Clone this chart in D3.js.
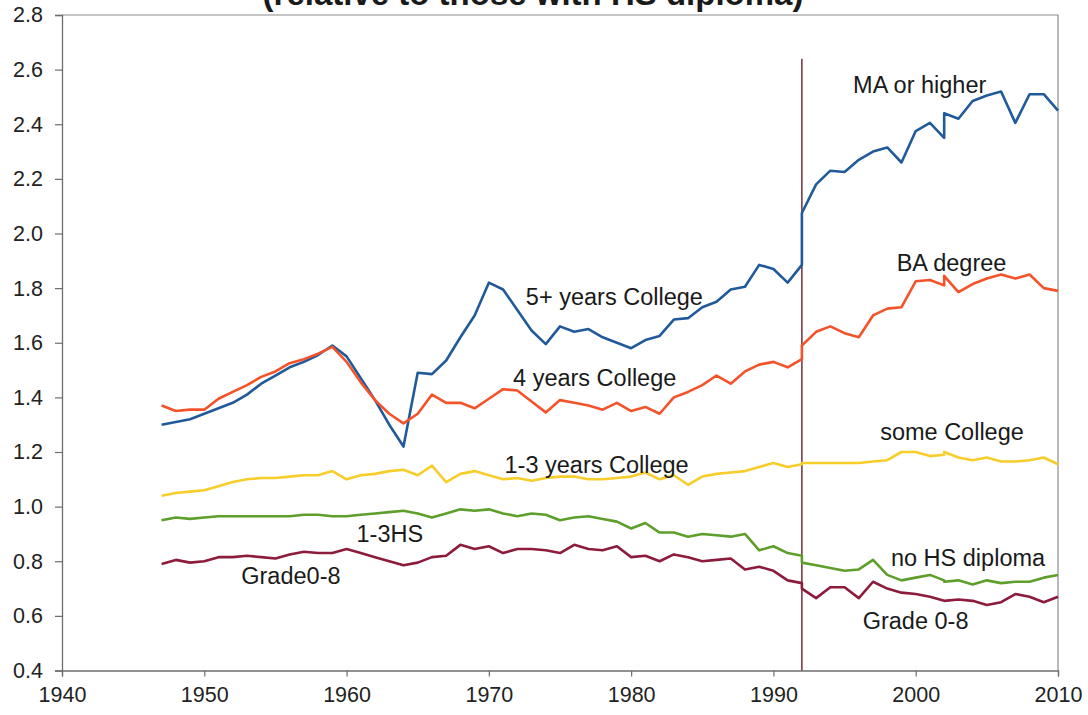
<!DOCTYPE html>
<html>
<head>
<meta charset="utf-8">
<script src="https://cdn.jsdelivr.net/npm/d3@7"></script>
<style>
  body { margin: 0; background: #fff; }
  svg { display: block; font-family: "Liberation Sans", Arial, sans-serif; }
  .tick text { fill: #222; }
</style>
</head>
<body>
<div id="chart"></div>
<script>
// canvas size
var svgWidth = 1088;
var svgHeight = 715;

// plot area edges
var margin = { top: 15, right: 30, bottom: 44.5, left: 62 };
var width = svgWidth - margin.left - margin.right;
var height = svgHeight - margin.top - margin.bottom;

// years before and after the 1992 break (2002 appears twice, as in the source)
var yearsEarly = [1947, 1948, 1949, 1950, 1951, 1952, 1953, 1954, 1955, 1956,
  1957, 1958, 1959, 1960, 1961, 1962, 1963, 1964, 1965, 1966, 1967, 1968, 1969,
  1970, 1971, 1972, 1973, 1974, 1975, 1976, 1977, 1978, 1979, 1980, 1981, 1982,
  1983, 1984, 1985, 1986, 1987, 1988, 1989, 1990, 1991, 1992];
var yearsLate = [1992, 1993, 1994, 1995, 1996, 1997, 1998, 1999, 2000, 2001,
  2002, 2002, 2003, 2004, 2005, 2006, 2007, 2008, 2009, 2010];

// 5+ years College -> MA or higher
var collegeFivePlus = [1.30, 1.31, 1.32, 1.34, 1.36, 1.38, 1.41, 1.45, 1.48, 1.51,
  1.53, 1.555, 1.59, 1.55, 1.47, 1.39, 1.30, 1.22, 1.49, 1.485, 1.535, 1.62, 1.70,
  1.82, 1.795, 1.72, 1.645, 1.595, 1.66, 1.64, 1.65, 1.62, 1.60, 1.58, 1.61, 1.625,
  1.685, 1.69, 1.73, 1.75, 1.795, 1.805, 1.885, 1.87, 1.82, 1.885];
var maOrHigher = [2.075, 2.18, 2.23, 2.225, 2.27, 2.30, 2.315, 2.26, 2.375, 2.405,
  2.35, 2.44, 2.42, 2.485, 2.505, 2.52, 2.405, 2.51, 2.51, 2.45];

// 4 years College -> BA degree
var collegeFour = [1.37, 1.35, 1.355, 1.355, 1.395, 1.42, 1.445, 1.475, 1.495, 1.525,
  1.54, 1.56, 1.585, 1.53, 1.455, 1.39, 1.34, 1.305, 1.34, 1.41, 1.38, 1.38, 1.36,
  1.395, 1.43, 1.425, 1.385, 1.345, 1.39, 1.38, 1.37, 1.355, 1.38, 1.35, 1.365, 1.34,
  1.40, 1.42, 1.445, 1.48, 1.45, 1.495, 1.52, 1.53, 1.51, 1.54];
var baDegree = [1.59, 1.64, 1.66, 1.635, 1.62, 1.70, 1.725, 1.73, 1.825, 1.83,
  1.81, 1.845, 1.785, 1.815, 1.835, 1.85, 1.835, 1.85, 1.80, 1.79];

// 1-3 years College -> some College
var collegeOneThree = [1.04, 1.05, 1.055, 1.06, 1.075, 1.09, 1.10, 1.105, 1.105, 1.11,
  1.115, 1.115, 1.13, 1.10, 1.115, 1.12, 1.13, 1.135, 1.115, 1.15, 1.09, 1.12, 1.13,
  1.115, 1.10, 1.105, 1.095, 1.105, 1.11, 1.11, 1.10, 1.10, 1.105, 1.11, 1.125, 1.10,
  1.115, 1.08, 1.11, 1.12, 1.125, 1.13, 1.145, 1.16, 1.145, 1.155];
var someCollege = [1.16, 1.16, 1.16, 1.16, 1.16, 1.165, 1.17, 1.20, 1.20, 1.185,
  1.19, 1.20, 1.18, 1.17, 1.18, 1.165, 1.165, 1.17, 1.18, 1.155];

// 1-3HS -> no HS diploma
var hsOneThree = [0.95, 0.96, 0.955, 0.96, 0.965, 0.965, 0.965, 0.965, 0.965, 0.965,
  0.97, 0.97, 0.965, 0.965, 0.97, 0.975, 0.98, 0.985, 0.975, 0.96, 0.975, 0.99, 0.985,
  0.99, 0.975, 0.965, 0.975, 0.97, 0.95, 0.96, 0.965, 0.955, 0.945, 0.92, 0.94, 0.905,
  0.905, 0.89, 0.90, 0.895, 0.89, 0.90, 0.84, 0.855, 0.83, 0.82];
var noHsDiploma = [0.795, 0.785, 0.775, 0.765, 0.77, 0.805, 0.75, 0.73, 0.74, 0.75,
  0.73, 0.725, 0.73, 0.715, 0.73, 0.72, 0.725, 0.725, 0.74, 0.75];

// Grade0-8 -> Grade 0-8
var gradeEarly = [0.79, 0.805, 0.795, 0.80, 0.815, 0.815, 0.82, 0.815, 0.81, 0.825,
  0.835, 0.83, 0.83, 0.845, 0.83, 0.815, 0.80, 0.785, 0.795, 0.815, 0.82, 0.86, 0.845,
  0.855, 0.83, 0.845, 0.845, 0.84, 0.83, 0.86, 0.845, 0.84, 0.855, 0.815, 0.82, 0.80,
  0.825, 0.815, 0.80, 0.805, 0.81, 0.77, 0.78, 0.765, 0.73, 0.72];
var gradeLate = [0.70, 0.665, 0.705, 0.705, 0.665, 0.725, 0.70, 0.685, 0.68, 0.67,
  0.655, 0.655, 0.66, 0.655, 0.64, 0.65, 0.68, 0.67, 0.65, 0.67];

var xTicks = [1940, 1950, 1960, 1970, 1980, 1990, 2000, 2010];
var yTicks = [0.4, 0.6, 0.8, 1.0, 1.2, 1.4, 1.6, 1.8, 2.0, 2.2, 2.4, 2.6, 2.8];

var breakYear = 1992;
var breakTop = 2.64;

var series = [
  { early: collegeFivePlus, late: maOrHigher, color: "#215a9a" },
  { early: collegeFour, late: baDegree, color: "#f4532a" },
  { early: collegeOneThree, late: someCollege, color: "#f7cd2a" },
  { early: hsOneThree, late: noHsDiploma, color: "#5e9e2b" },
  { early: gradeEarly, late: gradeLate, color: "#8c1b3c" }
];

// series names, placed at [year, value] of their left baseline
var labels = [
  { text: "MA or higher", at: [1995.6, 2.514] },
  { text: "BA degree", at: [1998.66, 1.861] },
  { text: "5+ years College", at: [1972.6, 1.738] },
  { text: "4 years College", at: [1971.7, 1.443] },
  { text: "1-3 years College", at: [1971.1, 1.122] },
  { text: "some College", at: [1997.5, 1.244] },
  { text: "1-3HS", at: [1960.7, 0.871] },
  { text: "no HS diploma", at: [1998.26, 0.784] },
  { text: "Grade0-8", at: [1952.6, 0.715] },
  { text: "Grade 0-8", at: [1996.27, 0.552] }
];

var svg = d3.select("#chart")
  .append("svg")
  .attr("width", svgWidth)
  .attr("height", svgHeight);

var chartGroup = svg.append("g")
  .attr("transform", `translate(${margin.left}, ${margin.top})`);

var xScale = d3.scaleLinear().domain([1940, 2010]).range([0, width]);
var yScale = d3.scaleLinear().domain([0.4, 2.8]).range([height, 0]);

// frame (top and right)
chartGroup.append("path")
  .attr("d", `M0,0H${width}V${height}`)
  .attr("fill", "none")
  .attr("stroke", "#8c8c8c")
  .attr("stroke-width", 1.2);

var bottomAxis = d3.axisBottom(xScale).tickValues(xTicks)
  .tickFormat(d3.format("d")).tickSizeOuter(0).tickSize(6).tickPadding(4);
var leftAxis = d3.axisLeft(yScale).tickValues(yTicks)
  .tickFormat(d3.format(".1f")).tickSizeOuter(0).tickSize(7).tickPadding(12);

var xg = chartGroup.append("g")
  .attr("transform", `translate(0, ${height})`)
  .call(bottomAxis);
var yg = chartGroup.append("g").call(leftAxis);

[xg, yg].forEach(function (g) {
  g.selectAll(".domain").attr("stroke", "#6e6e6e").attr("stroke-width", 1.3);
  g.selectAll(".tick line").attr("stroke", "#6e6e6e").attr("stroke-width", 1.2);
  g.selectAll(".tick text").style("font-size", "21.5px");
});
xg.selectAll(".tick text").attr("dy", "1.0em");

// break line
chartGroup.append("line")
  .attr("x1", xScale(breakYear)).attr("x2", xScale(breakYear))
  .attr("y1", yScale(breakTop)).attr("y2", yScale(0.4))
  .attr("stroke", "#7d3a44")
  .attr("stroke-width", 1.6);

var line = d3.line()
  .x(d => xScale(d[0]))
  .y(d => yScale(d[1]));

series.forEach(function (s) {
  var pts = yearsEarly.map((y, i) => [y, s.early[i]])
    .concat(yearsLate.map((y, i) => [y, s.late[i]]));
  chartGroup.append("path")
    .datum(pts)
    .attr("fill", "none")
    .attr("stroke", s.color)
    .attr("stroke-width", 2.6)
    .attr("stroke-linejoin", "round")
    .attr("d", line);
});

chartGroup.selectAll(".label")
  .data(labels)
  .enter()
  .append("text")
  .attr("class", "label")
  .attr("x", d => xScale(d.at[0]))
  .attr("y", d => yScale(d.at[1]))
  .style("font-size", "23.5px")
  .style("fill", "#1a1a1a")
  .text(d => d.text);

// title, mostly cut off by the top edge as in the source image
svg.append("text")
  .attr("x", 533)
  .attr("y", 5)
  .attr("text-anchor", "middle")
  .style("font-size", "33px")
  .style("font-weight", "bold")
  .style("fill", "#1a1a1a")
  .text("(relative to those with HS diploma)");
</script>
</body>
</html>
